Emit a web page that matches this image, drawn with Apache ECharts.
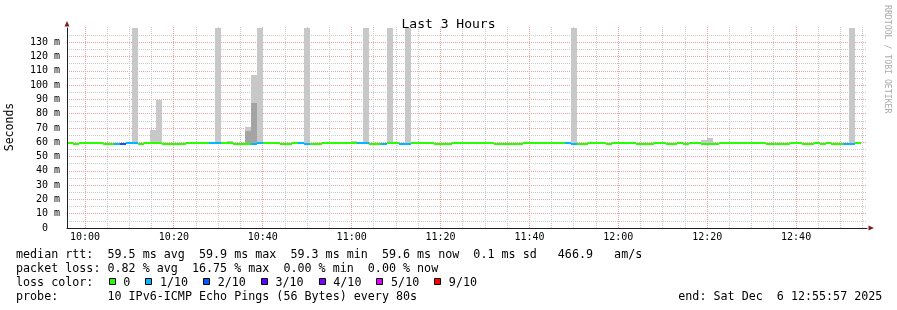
<!DOCTYPE html>
<html><head><meta charset="utf-8">
<script src="https://cdn.jsdelivr.net/npm/echarts@6/dist/echarts.min.js"></script>
<style>html,body{margin:0;padding:0;background:#fff;}#c{width:897px;height:310px;}</style>
</head><body><div id="c"></div>
<script>
// ---------------- data ----------------
const TITLE = 'Last 3 Hours';
const START_TIME = '09:55:57';
const SPAN_S = 10800;      // 3 hours
const STEP_S = 80;         // one probe round every 80 s
const X_TICK_LABELS = ['10:00','10:20','10:40','11:00','11:20','11:40','12:00','12:20','12:40'];
const Y_TICK_LABELS = ['  0  ',' 10 m',' 20 m',' 30 m',' 40 m',' 50 m',' 60 m',' 70 m',' 80 m',' 90 m','100 m','110 m','120 m','130 m',''];
const Y_MAX_MS = 140;

// median rtt per 80 s step (ms)
const MEDIAN_MS = [
  59.9,59.3,59.9,59.9,59.9,59.9,59.3,59.3,59.3,59.3,
  59.9,59.9,59.3,59.9,59.9,59.9,59.3,59.3,59.3,59.3,
  59.9,59.9,59.9,59.9,59.9,59.9,59.9,59.9,59.3,59.3,
  59.3,59.3,59.9,59.9,59.9,59.9,59.3,59.3,59.9,59.9,
  59.3,59.3,59.3,59.9,59.9,59.9,59.9,59.9,59.9,59.9,
  59.9,59.3,59.3,59.3,59.9,59.9,59.3,59.3,59.9,59.9,
  59.9,59.9,59.3,59.3,59.3,59.9,59.9,59.9,59.9,59.9,
  59.9,59.9,59.3,59.3,59.3,59.3,59.3,59.9,59.9,59.9,
  59.9,59.9,59.9,59.9,59.9,59.3,59.3,59.3,59.9,59.9,
  59.9,59.3,59.9,59.9,59.9,59.9,59.3,59.3,59.3,59.9,
  59.9,59.3,59.3,59.9,59.3,59.9,59.9,59.3,59.3,59.3,
  59.9,59.9,59.9,59.9,59.9,59.9,59.9,59.9,59.3,59.3,
  59.3,59.3,59.9,59.9,59.3,59.3,59.9,59.3,59.9,59.3,
  59.3,59.3,59.3,59.6,null
];
// lost pings (out of 10) per step
const LOSS_OF_10 = [
  0,0,0,0,0,0,0,0,1,2,
  1,1,0,0,0,0,0,0,0,0,
  0,0,0,0,1,1,0,0,0,0,
  0,1,1,0,0,0,0,0,0,1,
  1,0,0,0,0,0,0,0,0,1,
  1,0,0,1,0,0,1,1,0,0,
  0,0,0,0,0,0,0,0,0,0,
  0,0,0,0,0,0,0,0,0,0,
  0,0,0,0,1,1,0,0,0,0,
  0,0,0,0,0,0,0,0,0,0,
  0,0,0,0,0,0,0,0,0,0,
  0,0,0,0,0,0,0,0,0,0,
  0,0,0,0,0,0,0,0,0,0,
  0,1,1,0,null
];
// smoke (ping spread) — steps where it shows above the median
const SMOKE_STEP     = [11, 14,   15,   25, 27, 30,   31,  32, 40, 48, 50, 54, 57, 85, 107,  108, 132];
const SMOKE_MAX_MS   = [140,68.6, 89.6, 140,61, 70.7, 107, 140,140,61, 140,140,140,140,61.5, 63,  140];
const SMOKE_INNER_MS = [null,null,null,null,null,68, 87.5,null,null,null,null,null,null,null,null,null,null];

const LOSS_LABELS = ['0','1/10','2/10','3/10','4/10','5/10','9/10'];
const LOSS_COLORS = ['#26ff00','#00b8ff','#0059ff','#5e00ff','#7e00ff','#dd00ff','#ff0000'];

const LEGEND_LINES = [
  'median rtt:  59.5 ms avg  59.9 ms max  59.3 ms min  59.6 ms now  0.1 ms sd   466.9   am/s',
  'packet loss: 0.82 % avg  16.75 % max  0.00 % min  0.00 % now',
  'loss color:',
  'probe:       10 IPv6-ICMP Echo Pings (56 Bytes) every 80s'
];
const END_TEXT = 'end: Sat Dec  6 12:55:57 2025';
const CREDIT = 'RRDTOOL / TOBI OETIKER';
const Y_NAME = 'Seconds';

// ---------------- helpers ----------------
const MONO = '"DejaVu Sans Mono", monospace';
const toSec = s => { const p = s.split(':').map(Number); return p[0]*3600 + p[1]*60 + (p[2] || 0); };
const pad2 = n => String(n).padStart(2, '0');
const fmtHM = v => pad2(Math.floor(v / 3600)) + ':' + pad2(Math.floor((v % 3600) / 60));
const T0 = toSec(START_TIME), T1 = T0 + SPAN_S;
const majorVals = X_TICK_LABELS.map(toSec);
const minorVals = [];
for (let v = Math.ceil(T0 / 300) * 300; v < T1; v += 300) if (majorVals.indexOf(v) < 0) minorVals.push(v);
const lossIdx = n => n >= 9 ? 6 : Math.min(n, 5);

const medianData = [];
MEDIAN_MS.forEach((m, i) => { if (m != null) medianData.push([T0 + i*STEP_S, T0 + (i+1)*STEP_S, m, m, LOSS_OF_10[i]]); });
const smokeOuter = SMOKE_STEP.map((s, k) => [T0 + s*STEP_S, T0 + (s+1)*STEP_S, MEDIAN_MS[s], SMOKE_MAX_MS[k]]);
const smokeInner = [];
SMOKE_STEP.forEach((s, k) => { if (SMOKE_INNER_MS[k] != null) smokeInner.push([T0 + s*STEP_S, T0 + (s+1)*STEP_S, MEDIAN_MS[s], SMOKE_INNER_MS[k]]); });
const vGridData = minorVals.map(v => [v, 0]).concat(majorVals.map(v => [v, 1]));

const GRID_C = '#cacaca';
const MGRID_C = '#f0a0a0';
const AXIS_C = '#1f1f1f';
const ARROW_C = '#801f1f';

function rectRender(color) {
  return function (params, api) {
    const a = api.coord([api.value(0), api.value(3)]);
    const b = api.coord([api.value(1), api.value(2)]);
    const x0 = Math.round(a[0]), x1 = Math.round(b[0]);
    const y0 = Math.round(a[1]), y1 = Math.round(b[1]);
    return { type: 'rect', shape: { x: x0, y: y0, width: x1 - x0, height: y1 - y0 }, style: { fill: color } };
  };
}
function medianRender(params, api) {
  const a = api.coord([api.value(0), api.value(2)]);
  const b = api.coord([api.value(1), api.value(2)]);
  const x0 = Math.round(a[0]), x1 = Math.round(b[0]);
  const y0 = Math.ceil(a[1] - 1), y1 = Math.ceil(a[1] + 1);
  return { type: 'rect', shape: { x: x0, y: y0, width: x1 - x0, height: y1 - y0 },
           style: { fill: LOSS_COLORS[lossIdx(api.value(4))] } };
}
function vGridRender(params, api) {
  const p = api.coord([api.value(0), 0]);
  const q = api.coord([api.value(0), Y_MAX_MS]);
  const x = Math.floor(p[0]) + 0.5;
  return { type: 'line', shape: { x1: x, y1: Math.round(p[1]), x2: x, y2: Math.round(q[1]) - 2 },
    style: { stroke: api.value(1) ? MGRID_C : GRID_C, lineWidth: 1, lineDash: [1, 1] } };
}

const chart = echarts.init(document.getElementById('c'), null, { renderer: 'canvas' });

// legend / decoration graphics
const graphics = [];
const LINE_Y = [254.5, 268.5, 282.5, 296.8];
const LEG_FONT = '11.7px ' + MONO;
const CH = 7.045;
LEGEND_LINES.forEach((t, i) => graphics.push({ type: 'text', x: 16, y: LINE_Y[i], z: 10,
  style: { text: t, font: LEG_FONT, fill: '#000', textAlign: 'left', textVerticalAlign: 'middle' } }));
let bx = 108.7;
LOSS_LABELS.forEach((lab, k) => {
  graphics.push({ type: 'rect', z: 10, shape: { x: Math.round(bx) + 0.5, y: 278.5, width: 6, height: 6 },
    style: { fill: LOSS_COLORS[k], stroke: '#000', lineWidth: 1 } });
  const tx = bx + 14.6;
  graphics.push({ type: 'text', x: tx, y: LINE_Y[2], z: 10,
    style: { text: lab, font: LEG_FONT, fill: '#000', textAlign: 'left', textVerticalAlign: 'middle' } });
  bx = tx + lab.length * CH + 15;
});
graphics.push({ type: 'text', x: 678.3, y: LINE_Y[3], z: 10,
  style: { text: END_TEXT, font: LEG_FONT, fill: '#000', textAlign: 'left', textVerticalAlign: 'middle' } });
graphics.push({ type: 'text', x: 887.6, y: 5, rotation: -Math.PI / 2, z: 10,
  style: { text: CREDIT, font: '8.2px ' + MONO, fill: '#aaaaaa', textAlign: 'left', textVerticalAlign: 'middle' } });
graphics.push({ type: 'text', x: 10.5, y: 127, rotation: Math.PI / 2, z: 10,
  style: { text: Y_NAME, font: '11.5px ' + MONO, fill: '#000', textAlign: 'center', textVerticalAlign: 'middle' } });
// axis arrows
graphics.push({ type: 'polygon', z: 10, shape: { points: [[67, 21], [64.5, 26.5], [69.5, 26.5]] }, style: { fill: ARROW_C } });
graphics.push({ type: 'polygon', z: 10, shape: { points: [[874, 228], [868.5, 225.5], [868.5, 230.5]] }, style: { fill: ARROW_C } });

const option = {
  backgroundColor: '#ffffff',
  animation: false,
  title: { text: TITLE, left: 'center', top: 13,
    textStyle: { fontFamily: MONO, fontSize: 13, fontWeight: 'normal', color: '#000' } },
  grid: { left: 67, top: 28, right: 30, bottom: 82, containLabel: false, outerBoundsMode: 'none' },
  xAxis: {
    type: 'value', min: T0, max: T1, z: 5,
    axisLine: { show: true, onZero: false, lineStyle: { color: AXIS_C, width: 1 } },
    axisTick: { show: false },
    axisLabel: { show: true, customValues: majorVals, formatter: v => fmtHM(v), margin: 4,
      fontFamily: MONO, fontSize: 10, color: '#000' },
    splitLine: { show: false }
  },
  yAxis: [
    { type: 'value', min: 0, max: Y_MAX_MS, interval: 10, z: 0, position: 'left',
      axisLine: { show: false },
      axisTick: { show: false },
      axisLabel: { formatter: v => Y_TICK_LABELS[Math.round(v / 10)] || '', margin: 7,
        fontFamily: MONO, fontSize: 10, color: '#000' },
      splitLine: { show: true, showMaxLine: false, showMinLine: false, lineStyle: { color: MGRID_C, width: 1, type: [1, 1] } },
      minorTick: { show: false, splitNumber: 2 },
      minorSplitLine: { show: true, lineStyle: { color: GRID_C, width: 1, type: [1, 1] } } },
    { type: 'value', min: 0, max: Y_MAX_MS, interval: 10, z: 5, position: 'left', offset: 0,
      axisLine: { show: true, onZero: false, lineStyle: { color: AXIS_C, width: 1 } },
      axisTick: { show: false }, axisLabel: { show: false }, splitLine: { show: false } }
  ],
  series: [
    { type: 'custom', name: 'time grid', z: 0, silent: true,
      dimensions: ['t', 'major'], encode: { x: 0 },
      renderItem: vGridRender, data: vGridData },
    { type: 'custom', name: 'smoke', z: 1, clip: true, silent: true,
      dimensions: ['t0','t1','lo','hi'], encode: { x: [0, 1], y: [2, 3] },
      renderItem: rectRender('#c8c8c8'), data: smokeOuter },
    { type: 'custom', name: 'smoke inner', z: 1, clip: true, silent: true,
      dimensions: ['t0','t1','lo','hi'], encode: { x: [0, 1], y: [2, 3] },
      renderItem: rectRender('#a4a4a4'), data: smokeInner },
    { type: 'custom', name: 'median rtt', z: 2, clip: true, silent: true,
      dimensions: ['t0','t1','lo','hi','loss'], encode: { x: [0, 1], y: [2, 3] },
      renderItem: medianRender, data: medianData }
  ],
  graphic: graphics
};
chart.setOption(option);
</script></body></html>
